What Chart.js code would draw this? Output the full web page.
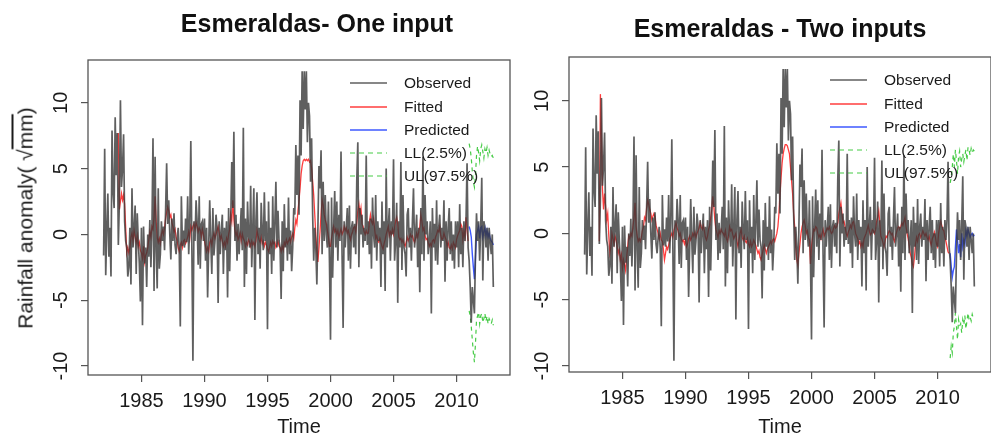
<!DOCTYPE html>
<html>
<head>
<meta charset="utf-8">
<script src="https://cdn.jsdelivr.net/npm/chart.js@4.4.1/dist/chart.umd.min.js"></script>
<style>
  html, body { margin:0; padding:0; background:#fff; }
  body { width:991px; height:439px; position:relative; overflow:hidden; font-family:"Liberation Sans", Arial, Helvetica, sans-serif; color:#1a1a1a; }
  canvas { position:absolute; top:0; }
  .title { position:absolute; font-weight:bold; font-size:25px; line-height:1; white-space:nowrap; transform:translate(-50%,-50%); color:#111; }
  .ytitle { position:absolute; font-size:21px; line-height:1; white-space:nowrap; transform:translate(-50%,-50%) rotate(-90deg); color:#1a1a1a; }
  .ov { text-decoration: overline; }
  .leg { position:absolute; font-size:15.5px; line-height:1; white-space:nowrap; }
  .leg .row { position:absolute; left:0; height:20px; }
  .leg svg { position:absolute; left:0; top:0; }
  .leg span { position:absolute; top:10px; transform:translateY(-50%); color:#1a1a1a; }
</style>
</head>
<body>
<canvas id="c1" width="512" height="439" style="left:0px"></canvas>
<canvas id="c2" width="476" height="439" style="left:515px"></canvas>
<div class="title" style="left:317px; top:23px">Esmeraldas- One input</div>
<div class="title" style="left:780px; top:28px">Esmeraldas - Two inputs</div>
<div class="ytitle" style="left:25px; top:218px">Rainfall anomaly( √<span class="ov">mm</span>)</div>
<div id="leg1" class="leg" style="left:350px; top:73px"></div>
<div id="leg2" class="leg" style="left:830px; top:70px"></div>
<script>
// ---------------- data ----------------
const obsStart = 1982;          // January 1982, monthly
const fitStart = 1983 + 2/12;   // March 1983, monthly
const predStart = 2011;         // January 2011, monthly
const xTicks = [1985, 1990, 1995, 2000, 2005, 2010];
const yTicks = [-10, -5, 0, 5, 10];
const legendLabels = ['Observed', 'Fitted', 'Predicted', 'LL(2.5%)', 'UL(97.5%)'];
const panelTitles = ['Esmeraldas- One input', 'Esmeraldas - Two inputs'];

const observed = [
  -1.6, 6.5, -3.1, 0.4, 3.1, -1.7, 0.5, -3.2, 7.9, 3.3, 2.0, 8.9,
  4.5, 7.7, -0.8, 2.5, 10.2, 3.6, 5.0, 7.6, 1.0, -0.5, -1.0, -3.2,
  -2.5, 0.5, -3.8, 3.5, -1.0, 0.5, 2.2, -3.0, 1.6, -0.5, -2.2, -5.1,
  0.5, -6.9, 0.6, -2.2, -1.0, -4.0, 0.0, -1.7, 1.1, -2.5, 0.4, 7.3,
  -4.3, 5.9, -1.2, -4.1, 3.5, -2.6, -1.5, 1.0, -0.5, 0.6, -1.2, 1.8,
  5.4, 0.8, 2.6, 0.0, -1.9, 1.2, -0.5, 1.6, -0.8, -1.5, -0.3, 0.5,
  -1.2, -7.0, 2.9, -0.9, 0.3, -1.0, 1.2, -0.6, 2.9, -1.5, 0.8, 7.1,
  -1.0, -9.6, 1.0, -0.5, 2.6, 1.0, -2.3, 2.9, -2.6, 0.8, 1.0, -0.5,
  1.2, -2.0, 0.5, -4.8, -1.0, 2.6, -0.5, -3.0, 2.0, -1.6, -0.5, 1.5,
  0.5, -5.2, 1.0, -1.5, 0.2, 1.5, -3.0, 0.5, -1.2, 1.0, -4.8, 2.0,
  -2.8, 1.0, 5.5, 2.0, 7.8, -0.5, 1.5, -2.0, 0.8, -1.5, 0.2, 2.0,
  -1.2, 8.1, -4.0, 1.2, -3.0, 2.5, 0.0, -1.0, 3.7, -2.5, 0.5, 3.5,
  -6.5, 1.0, 3.2, -1.5, 0.5, -2.6, 2.4, 0.2, -1.2, 3.2, -0.5, 1.0,
  -7.2, 2.5, -1.5, 0.5, -3.0, 2.9, -2.0, 0.8, 4.0, -1.0, 1.8, -0.5,
  -1.0, -4.9, 1.0, -2.8, 2.3, -1.0, 0.5, -2.0, 2.8, -1.5, 0.3, -2.8,
  -1.0, 2.0, 1.5, 6.8, 3.0, 6.0, 1.5, 10.2, 6.0, 12.4, 8.0, 12.4,
  9.5, 12.4, 7.0, 10.0, 9.0, 4.0, 7.3, 1.5, -2.0, 0.5, -1.0, -3.8,
  0.5, 5.2, 3.5, 6.4, -1.5, 4.0, -0.5, 3.0, 0.0, -1.0, 2.5, -2.0,
  -8.0, 2.8, -3.3, 0.5, 3.3, -1.0, 2.5, -2.0, 1.5, -0.5, 6.3, -1.5,
  -7.1, 1.0, -1.0, 0.5, 2.0, -2.0, 2.2, -2.6, 0.5, 1.0, -1.0, 0.8,
  -1.5, 4.0, 7.0, -2.5, 2.0, 0.0, 1.5, -1.0, 0.5, -0.5, 6.0, -0.8,
  1.0, -1.5, 1.2, -2.6, 2.8, 0.0, -1.0, 3.0, -2.0, 1.0, -0.5, 0.5,
  -4.0, 2.5, -1.5, 1.0, -4.3, 5.0, -1.0, 0.5, 2.0, -2.0, 1.0, 0.0,
  5.7, -2.0, -0.5, 2.4, -5.2, 1.0, -1.0, 5.5, -2.7, 3.0, -1.0, -1.5,
  -3.2, 1.5, 2.0, -1.0, 0.5, -2.0, 1.0, 3.5, -1.0, 0.0, 1.5, -2.5,
  0.5, -4.4, 2.0, -1.5, 5.9, -2.0, 3.0, 0.0, 1.0, -1.5, -0.5, 1.0,
  -6.0, 2.0, -1.0, 0.8, -2.0, 2.6, -2.3, 0.5, 1.5, -1.0, 0.5, -0.5,
  2.6, -3.6, 1.0, -2.0, 0.5, 2.0, -1.5, 1.0, -2.0, 0.0, -2.6, 1.0,
  -1.0, 1.0, -2.5, 2.3, -1.5, 0.5, -2.5, 1.0, -0.5, 1.0, 5.4, -1.0,
  -2.0, -4.0, -6.7, -4.0, -5.0, -6.0, -1.5, 1.6, -0.5, 1.0, -2.0, 0.5,
  4.3, -3.5, 1.0, 0.5, -1.0, 0.5, -2.0, 0.5, -0.5, -1.5, 0.0, -4.0
];

const fittedOne = [
  7.7, 1.9, 2.5, 3.1, 2.6, 3.0, 2.3, 0.5, -1.4, -1.0,
  -1.4, -1.0, -0.2, 0.1, -0.5, 0.3, -0.2, -0.6, -0.1, -0.9, -0.6, -1.2,
  -1.4, -1.8, -0.9, -2.1, -1.6, -1.4, -1.0, -0.4, 0.2, -0.2, 0.6, 0.4,
  1.3, 2.9, 1.0, -0.2, -0.6, -0.3, -0.7, 0.0, 0.3, 0.0, 0.5, 1.2,
  1.7, 2.1, 1.8, 1.3, 1.5, 0.9, 0.6, 0.2, 0.4, -0.2, -0.5, -1.0,
  -1.3, -0.8, -0.6, -1.0, -0.5, -0.4, -0.7, -0.5, -0.2, 0.2, -0.3, 0.6,
  0.3, 0.6, 0.8, 0.4, 0.9, 0.6, 0.2, 0.5, 0.3, -0.2, 0.4, 0.0,
  -0.5, -0.9, -1.3, -1.0, -1.3, -0.6, -0.4, -0.8, -0.2, 0.1, -0.3, 0.0,
  0.3, 0.6, 0.1, -0.4, -0.1, -0.5, -0.9, -0.6, -0.9, -0.3, -0.6, 0.0,
  0.4, 1.5, 1.0, 2.6, 1.2, 0.3, -0.1, 0.2, -0.4, -0.2, 0.1, -0.5,
  0.05, -0.3, -0.5, -0.9, -0.6, -0.8, -0.4, -0.6, -0.9, -0.5, -0.8, -0.6,
  -0.9, -0.5, 0.3, -0.1, -0.4, -0.6, -0.2, -0.7, -0.5, -0.9, -0.6, -0.8,
  -1.1, -1.3, -1.0, -0.6, -0.9, -0.5, -0.7, -0.6, -1.0, -0.8, -0.5, -0.9,
  -1.0, -1.3, -0.9, -1.2, -0.6, -0.8, -0.4, -0.7, -0.5, -0.3, -0.6, -0.2,
  0.05, -0.3, 0.5, 1.1, 0.8, 1.8, 2.6, 3.5, 4.6, 5.2, 5.6, 5.7,
  5.6, 5.7, 5.6, 5.7, 5.5, 5.6, 5.0, 4.0, 3.0, 1.5, 0.0, -1.2,
  -2.1, -1.0, 0.2, 1.5, 2.6, 2.2, 1.5, 1.1, 0.8, 0.3, -0.2, -0.9,
  -0.9, -0.3, 0.2, 0.6, 0.2, 0.4, 0.0, 0.3, -0.2, 0.1, 0.4, 0.0,
  0.2, 0.6, 0.3, 0.5, 0.1, 0.3, -0.1, -0.4, 0.0, 0.2, 0.5, 0.6,
  0.2, 0.9, 1.8, 2.3, 1.5, 2.0, 0.8, 0.6, 0.2, 0.0, 0.3, 0.05,
  0.1, 0.9, 1.5, 1.0, 0.8, 1.2, 0.4, -0.3, -0.1, -0.5, -0.6, -0.3,
  -0.6, -0.9, -1.1, -0.7, -0.4, 0.0, 0.3, 0.6, -0.1, 0.2, 0.0, 0.4,
  0.0, 0.5, 1.0, 1.3, 0.8, -0.2, -0.4, -0.3, -0.6, -0.4, -0.7, -0.9,
  -0.6, -0.2, -0.5, -0.3, 0.0, -0.2, -0.1, -0.4, -0.6, -0.3, 0.1, -0.2,
  0.2, 0.6, 1.5, 1.0, 0.3, 0.5, -0.1, -0.4, -0.3, -0.6, -0.9, -0.7,
  -0.9, -0.5, -0.4, -0.6, -0.2, 0.0, 0.3, 0.2, 0.6, -0.1, -0.4, -0.3,
  0.1, -0.2, -0.4, -0.9, -0.6, -1.0, -1.1, -0.8, -1.1, -0.6, -0.8, -1.0,
  -0.4, -0.1, 0.1, 0.3, 0.8, 0.6, -0.4, 0.2, -0.2, 1.3, 0.3, -0.5
];

const fittedTwo = [
  -0.6, 10.5, 7.5, 3.3, 1.8, 3.0, 2.0, 1.0, 1.5, -0.2,
  -1.5, -1.0, 0.0, -0.4, -0.8, -0.2, -0.5, -1.0, -1.5, -1.2, -2.0, -1.6,
  -2.6, -2.0, -2.4, -2.8, -1.8, -1.0, -0.2, -0.4, 0.0, -0.2, 0.5, 1.2,
  2.3, 0.5, -0.2, -0.6, -0.4, -0.6, -0.3, 0.2, 0.5, 1.2, 1.0, 1.9,
  2.5, 2.2, 1.8, 1.5, 1.0, 1.3, 1.5, 1.2, 0.6, 0.3, 0.0, -0.4,
  0.0, -0.5, -0.6, -1.2, -2.0, -1.5, -1.0, -1.2, -0.9, -0.5, -0.2, 0.0,
  -0.3, 0.2, 0.5, 0.8, 0.4, 0.2, -0.2, 0.0, -0.4, -0.6, -0.5, -0.8,
  -0.5, -1.0, -0.8, -0.4, -0.2, -0.5, -0.3, 0.0, -0.2, 0.1, -0.3, 0.0,
  0.2, 0.4, 0.8, 0.5, 0.3, 0.6, 0.2, -0.3, -0.5, -0.2, 0.3, 0.6,
  1.2, 1.8, 2.8, 2.0, 1.0, 0.3, 0.0, -0.3, 0.2, 0.0, 0.3, 0.1,
  0.0, -0.2, 0.2, -0.4, -0.6, -0.2, 0.5, 0.2, 0.3, -0.1, -0.4, -0.2,
  0.0, -0.6, -1.0, -0.5, 0.0, 0.3, -0.3, -0.5, -0.2, -0.6, -0.7, -0.4,
  -0.8, -1.0, -0.6, -1.0, -0.8, -0.5, -0.7, -0.9, -1.2, -1.5, -1.3, -1.8,
  -2.0, -1.6, -1.2, -0.9, -1.2, -1.5, -1.2, -1.0, -0.8, -0.6, -0.8, -0.5,
  -0.4, -0.6, -0.3, 0.0, 0.5, 1.5, 3.0, 4.2, 5.3, 6.0, 6.4, 6.7,
  6.7, 6.6, 6.3, 6.0, 5.0, 4.0, 3.0, 1.5, 0.5, -1.0, -2.0, -2.4,
  -1.5, -0.8, 0.0, 0.5, 0.8, 1.0, 0.6, 0.0, 0.2, -0.3, -0.5, -2.3,
  -1.0, -0.3, 0.3, 0.2, 0.5, 0.4, 0.0, -0.3, -0.1, -0.4, 0.0, 0.3,
  -0.2, 0.0, 0.2, 0.4, 0.3, 0.5, 0.2, 0.0, 0.1, 0.4, 0.6, 0.4,
  0.5, 0.8, 1.5, 1.9, 2.3, 1.5, 0.8, 0.9, 0.5, 0.0, -0.2, 0.1,
  0.3, 0.6, 0.4, 0.8, 0.9, 0.5, 0.0, -0.2, -0.4, -0.8, -0.6, -1.0,
  -0.7, -1.0, -0.4, -0.2, 0.0, 0.3, 0.6, 0.2, -0.1, 0.0, 0.3, 0.2,
  0.0, 0.3, 0.9, 1.2, 1.7, 0.8, -0.2, -0.4, -0.7, -1.0, -0.6, -0.2,
  -0.3, 0.0, 0.2, 0.1, -0.1, 0.0, -0.4, -0.6, -0.2, 0.1, 0.4, 0.5,
  0.3, 0.5, 0.8, 0.6, 0.9, 1.2, 0.5, 0.0, -0.4, -0.9, -1.5, -1.8,
  -2.3, -2.5, -1.8, -0.8, -0.3, -0.6, -0.1, 0.0, -0.3, -0.1, 0.2, 0.0,
  -0.2, 0.0, -0.3, -0.5, -0.2, -0.6, -0.9, -0.4, -0.2, 0.1, -0.3, -0.8,
  -1.0, 0.0, 0.5, 0.9, 0.6, 0.3, 0.2, -0.3, -0.6, -1.0, -1.4, -1.5
];

const predictedOne = [0.6, 0.3, -0.2, -1.5, -2.5, -3.4, -1.8, 0.0, 0.3, 0.6, -0.3, 0.5,
                      0.6, -0.2, 0.2, 0.5, -0.1, 0.3, -0.2, 0.1, -0.3, -0.5, -0.6, -0.8];
const lowerOne = [-5.8, -6.2, -7.0, -8.0, -9.0, -9.7, -8.3, -6.5, -6.2, -5.9, -6.8, -6.2,
                  -6.0, -6.7, -6.4, -6.0, -6.6, -6.2, -6.8, -6.4, -6.6, -6.8, -6.5, -6.9];
const upperOne = [6.9, 6.5, 5.8, 4.8, 4.0, 3.6, 4.5, 6.0, 6.7, 6.2, 5.6, 6.5,
                  6.8, 6.3, 5.8, 6.5, 6.2, 6.6, 6.0, 6.4, 6.1, 5.9, 6.0, 5.8];

const predictedTwo = [-1.5, -2.5, -3.3, -2.8, -2.5, -1.0, 0.3, -0.5, -1.5, -0.8, -1.8, 0.0,
                      -1.0, -0.5, -0.8, 0.2, -0.2, 0.3, 0.0, -0.3, -0.1, 0.0, -0.2, -0.1];
const lowerTwo = [-9.4, -8.5, -9.0, -7.5, -7.0, -6.0, -7.0, -8.0, -6.5, -7.0, -6.8, -7.5,
                  -6.5, -6.9, -6.2, -7.2, -6.6, -6.0, -6.5, -6.3, -6.6, -6.1, -6.4, -6.3];
const upperTwo = [3.8, 4.2, 5.0, 6.0, 5.0, 6.3, 5.5, 4.5, 5.8, 6.2, 5.0, 5.6,
                  6.0, 5.4, 5.9, 6.3, 5.5, 6.5, 6.3, 5.9, 6.4, 6.1, 6.3, 6.2];

// ---------------- styling ----------------
const FONT = '"Liberation Sans", Arial, Helvetica, sans-serif';
const colors = { obs: 'rgba(55,55,55,0.8)', fit: 'rgba(255,40,40,0.9)', pred: 'rgba(40,70,255,0.9)', ci: 'rgba(60,200,60,0.95)' };

function toPoints(values, start) {
  return values.map((v, i) => ({ x: start + i / 12, y: v }));
}

const framePlugin = {
  id: 'frame',
  afterDraw(chart, args, opts) {
    const { ctx, chartArea: a } = chart;
    const ys = chart.scales.y;
    ctx.save();
    ctx.strokeStyle = '#555';
    ctx.lineWidth = 1.3;
    ctx.strokeRect(a.left, a.top, a.right - a.left, a.bottom - a.top);
    ctx.fillStyle = '#1a1a1a';
    ctx.font = '20px ' + FONT;
    ctx.textAlign = 'center';
    ctx.textBaseline = 'middle';
    ys.ticks.forEach(t => {
      const py = ys.getPixelForValue(t.value);
      ctx.save();
      ctx.translate(a.left - opts.labelOffset, py);
      ctx.rotate(-Math.PI / 2);
      ctx.fillText(String(t.value), 0, 0);
      ctx.restore();
    });
    ctx.restore();
  }
};

function makePanel(id, fitted, pred, lower, upper, g) {
  const ds = [
    { label: legendLabels[0], data: toPoints(observed, obsStart), borderColor: colors.obs, borderWidth: 1.7 },
    { label: legendLabels[1], data: toPoints(fitted, fitStart), borderColor: colors.fit, borderWidth: 1.3 },
    { label: legendLabels[2], data: toPoints(pred, predStart), borderColor: colors.pred, borderWidth: 1.4 },
    { label: legendLabels[3], data: toPoints(lower, predStart), borderColor: colors.ci, borderWidth: 1.2, borderDash: [4, 4] },
    { label: legendLabels[4], data: toPoints(upper, predStart), borderColor: colors.ci, borderWidth: 1.2, borderDash: [4, 4] }
  ];
  ds.forEach(d => { d.pointRadius = 0; d.tension = 0; d.fill = false; });
  const tickGrid = { display: true, drawOnChartArea: false, drawTicks: true, tickLength: 7, color: '#555', lineWidth: 1.2 };
  return new Chart(document.getElementById(id), {
    type: 'line',
    data: { datasets: ds },
    plugins: [framePlugin],
    options: {
      responsive: false,
      animation: false,
      events: [],
      layout: { padding: { top: g.top, right: g.right, bottom: 0, left: 0 } },
      plugins: { legend: { display: false }, tooltip: { enabled: false }, title: { display: false }, frame: { labelOffset: 27 } },
      scales: {
        x: {
          type: 'linear', position: 'bottom', min: 1980.76, max: 2014.24,
          afterBuildTicks: s => { s.ticks = xTicks.map(v => ({ value: v })); },
          afterFit: s => { s.height = g.xh; },
          grid: tickGrid, border: { display: false },
          ticks: { autoSkip: false, maxRotation: 0, minRotation: 0, padding: 7, color: '#1a1a1a', font: { family: FONT, size: 20 }, callback: v => String(v) },
          title: { display: true, text: 'Time', color: '#1a1a1a', font: { family: FONT, size: 20 }, padding: { top: 0, bottom: 0 } }
        },
        y: {
          type: 'linear', position: 'left', min: g.ymin, max: g.ymax,
          afterBuildTicks: s => { s.ticks = yTicks.map(v => ({ value: v })); },
          afterFit: s => { s.width = g.yw; },
          grid: tickGrid, border: { display: false },
          ticks: { display: true, callback: () => '', font: { size: 4 } }
        }
      }
    }
  });
}

makePanel('c1', fittedOne, predictedOne, lowerOne, upperOne, { top: 60, right: 2, xh: 64, yw: 88, ymin: -10.68, ymax: 13.25 });
makePanel('c2', fittedTwo, predictedTwo, lowerTwo, upperTwo, { top: 57, right: 0, xh: 67, yw: 54, ymin: -10.45, ymax: 13.3 });

// ---------------- HTML legends ----------------
function buildLegend(elId) {
  const el = document.getElementById(elId);
  const styles = [
    { c: colors.obs, dash: null, w: 1.7 },
    { c: colors.fit, dash: null, w: 1.3 },
    { c: colors.pred, dash: null, w: 1.4 },
    { c: colors.ci, dash: '5,4', w: 1.2 },
    { c: colors.ci, dash: '5,4', w: 1.2 }
  ];
  const rowTops = [0, 23.5, 46.5, 70, 93];
  legendLabels.forEach((lab, i) => {
    const row = document.createElement('div');
    row.className = 'row';
    row.style.top = rowTops[i] + 'px';
    const s = styles[i];
    row.innerHTML = '<svg width="38" height="20"><line x1="0" y1="10" x2="37" y2="10" stroke="' + s.c + '" stroke-width="' + s.w + '"' +
      (s.dash ? ' stroke-dasharray="' + s.dash + '"' : '') + '/></svg><span style="left:54px">' + lab + '</span>';
    el.appendChild(row);
  });
}
buildLegend('leg1');
buildLegend('leg2');
</script>
</body>
</html>
